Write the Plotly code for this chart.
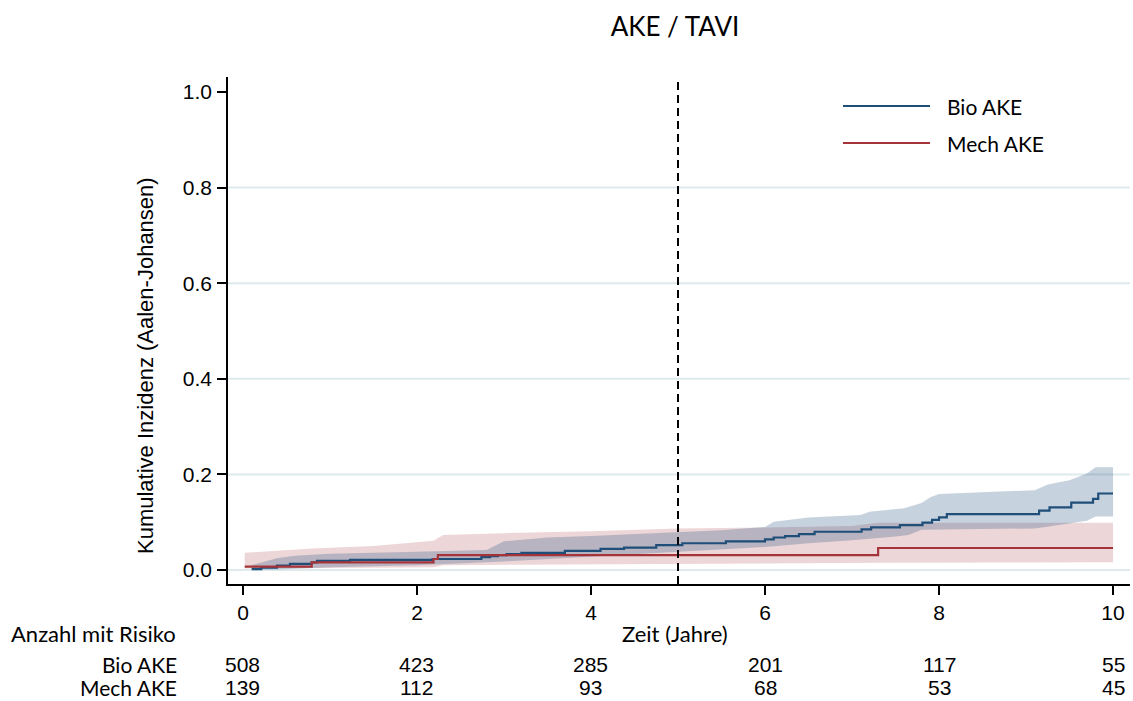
import plotly.graph_objects as go

# ---------------- data ----------------
title = "AKE / TAVI"
groups = ["Bio AKE", "Mech AKE"]

# Bio AKE cumulative incidence (step function)
bio_t = [0.10, 0.21, 0.39, 0.54, 0.79, 0.85, 1.23, 2.18, 2.74, 2.84, 2.93, 3.03, 3.20,
         3.70, 4.11, 4.38, 4.75, 5.05, 5.55, 6.00, 6.10, 6.23, 6.39, 6.57, 7.11, 7.22,
         7.55, 7.81, 7.92, 8.00, 8.09, 9.15, 9.27, 9.52, 9.77, 9.83, 10.00]
bio_v = [0.002, 0.005, 0.009, 0.013, 0.016, 0.019, 0.021, 0.023, 0.027, 0.029, 0.031,
         0.033, 0.036, 0.040, 0.044, 0.047, 0.052, 0.056, 0.060, 0.064, 0.068, 0.071,
         0.075, 0.080, 0.085, 0.089, 0.094, 0.099, 0.105, 0.110, 0.117, 0.124, 0.131,
         0.141, 0.149, 0.160, 0.160]

# Bio AKE confidence band
bio_ci_t_hi = [0.10, 0.40, 0.60, 1.00, 2.00, 2.80, 3.00, 3.50, 4.00, 4.75, 5.00, 5.50,
               6.00, 6.10, 6.50, 7.10, 7.20, 7.60, 7.80, 7.90, 8.00, 9.10, 9.25, 9.50,
               9.70, 9.80, 10.00]
bio_ci_hi = [0.010, 0.025, 0.030, 0.034, 0.038, 0.042, 0.060, 0.068, 0.071, 0.077,
             0.078, 0.083, 0.090, 0.101, 0.110, 0.115, 0.122, 0.129, 0.140, 0.152,
             0.159, 0.167, 0.179, 0.188, 0.202, 0.215, 0.215]
bio_ci_t_lo = [0.10, 0.40, 1.00, 2.00, 3.00, 4.00, 5.00, 6.00, 6.50, 7.00, 7.50, 7.65,
               7.80, 8.20, 9.10, 9.30, 9.70, 9.80, 10.00]
bio_ci_lo = [0.000, 0.001, 0.006, 0.010, 0.018, 0.028, 0.038, 0.048, 0.056, 0.062,
             0.070, 0.073, 0.084, 0.085, 0.087, 0.092, 0.103, 0.112, 0.112]

# Mech AKE cumulative incidence (step function)
mech_t = [0.02, 0.79, 2.19, 2.24, 7.30, 10.00]
mech_v = [0.007, 0.016, 0.023, 0.031, 0.046, 0.046]

# Mech AKE confidence band
mech_ci_t_hi = [0.02, 0.80, 1.50, 2.19, 2.30, 3.00, 4.00, 5.00, 6.00, 7.00, 7.30, 10.00]
mech_ci_hi = [0.036, 0.045, 0.050, 0.061, 0.073, 0.077, 0.081, 0.087, 0.089, 0.092,
              0.099, 0.099]
mech_ci_t_lo = [0.02, 2.19, 2.30, 5.00, 7.30, 10.00]
mech_ci_lo = [0.003, 0.006, 0.010, 0.013, 0.015, 0.016]

# numbers at risk
risk_times = [0, 2, 4, 6, 8, 10]
risk_bio = [508, 423, 285, 201, 117, 55]
risk_mech = [139, 112, 93, 68, 53, 45]

y_ticks = [0.0, 0.2, 0.4, 0.6, 0.8, 1.0]
x_ticks = [0, 2, 4, 6, 8, 10]
cut_time = 5

# ---------------- styles ----------------
BLUE = "rgb(31,78,121)"
RED = "rgb(164,52,58)"
BLUE_FILL = "rgba(26,74,122,0.25)"
RED_FILL = "rgba(160,50,60,0.20)"
GRID = "rgb(222,234,236)"
TICK_FONT = "Liberation Sans, Arial, sans-serif"
TEXT_FONT = "Lato, Open Sans, sans-serif"

fig = go.Figure()

# bands
fig.add_trace(go.Scatter(x=mech_ci_t_lo, y=mech_ci_lo, mode="lines",
                         line=dict(width=0), hoverinfo="skip", showlegend=False))
fig.add_trace(go.Scatter(x=mech_ci_t_hi, y=mech_ci_hi, mode="lines", fill="tonexty",
                         fillcolor=RED_FILL, line=dict(width=0), hoverinfo="skip",
                         showlegend=False))
fig.add_trace(go.Scatter(x=bio_ci_t_lo, y=bio_ci_lo, mode="lines",
                         line=dict(width=0), hoverinfo="skip", showlegend=False))
fig.add_trace(go.Scatter(x=bio_ci_t_hi, y=bio_ci_hi, mode="lines", fill="tonexty",
                         fillcolor=BLUE_FILL, line=dict(width=0), hoverinfo="skip",
                         showlegend=False))

# estimates
fig.add_trace(go.Scatter(x=bio_t, y=bio_v, mode="lines", name=groups[0],
                         line=dict(color=BLUE, width=2.2, shape="hv"), showlegend=False))
fig.add_trace(go.Scatter(x=mech_t, y=mech_v, mode="lines", name=groups[1],
                         line=dict(color=RED, width=2.2, shape="hv"), showlegend=False))

# grid lines (no line at 1.0)
for yv in y_ticks[:-1]:
    fig.add_shape(type="line", xref="paper", x0=0, x1=1, yref="y", y0=yv, y1=yv,
                  line=dict(color=GRID, width=2), layer="below")

# dashed vertical line
fig.add_shape(type="line", xref="x", x0=cut_time, x1=cut_time, yref="paper", y0=0, y1=1,
              line=dict(color="black", width=2, dash="8px,5px"))

# custom legend
leg_y = [0.9428, 0.8698]
leg_cols = [BLUE, RED]
for name, yy, col in zip(groups, leg_y, leg_cols):
    fig.add_shape(type="line", xref="paper", yref="paper", x0=0.6818, x1=0.7783,
                  y0=yy, y1=yy, line=dict(color=col, width=2))
    fig.add_annotation(xref="paper", yref="paper", x=0.795, y=yy, text=name,
                       showarrow=False, xanchor="left", yanchor="middle",
                       font=dict(family=TEXT_FONT, size=21, color="black"))

# y axis title
fig.add_annotation(xref="paper", yref="paper", x=(145 - 228) / 902, y=(584 - 366) / 507,
                   text="Kumulative Inzidenz (Aalen-Johansen)", textangle=-90,
                   showarrow=False, xanchor="center", yanchor="middle",
                   font=dict(family=TICK_FONT, size=22, color="black"))

# risk table
row_y = [(584 - 664) / 507, (584 - 687) / 507]
fig.add_annotation(xref="paper", yref="paper", x=(178 - 228) / 902, y=(584 - 633) / 507,
                   text="Anzahl mit Risiko", showarrow=False, xanchor="right",
                   yanchor="middle", font=dict(family=TEXT_FONT, size=22, color="black"))
fig.add_annotation(xref="paper", yref="paper", x=(675 - 228) / 902, y=(584 - 633) / 507,
                   text="Zeit (Jahre)", showarrow=False, xanchor="center",
                   yanchor="middle", font=dict(family=TEXT_FONT, size=22, color="black"))
for name, yy, vals in zip(groups, row_y, [risk_bio, risk_mech]):
    fig.add_annotation(xref="paper", yref="paper", x=(178 - 228) / 902, y=yy,
                       text=name, showarrow=False, xanchor="right", yanchor="middle",
                       borderpad=0,
                       font=dict(family=TEXT_FONT, size=21, color="black"))
    for t, v in zip(risk_times, vals):
        fig.add_annotation(xref="x", yref="paper", x=t, y=yy, text=str(v),
                           showarrow=False, xanchor="center", yanchor="middle",
                           borderpad=0,
                           font=dict(family=TICK_FONT, size=21, color="black"))

fig.update_layout(
    width=1133, height=701,
    margin=dict(l=228, r=3, t=77, b=117),
    paper_bgcolor="white", plot_bgcolor="white",
    title=dict(text=title, x=(675) / 1133, xanchor="center", y=1 - 27 / 701,
               yanchor="middle", font=dict(family=TEXT_FONT, size=26, color="black")),
    showlegend=False,
    xaxis=dict(range=[-0.172, 10.195], tickvals=x_ticks, ticktext=[str(v) for v in x_ticks],
               ticks="outside", ticklen=9, tickwidth=1.5, tickcolor="black",
               showline=True, linecolor="black", linewidth=1.5, showgrid=False,
               zeroline=False, ticklabelstandoff=0,
               tickfont=dict(family=TICK_FONT, size=21, color="black")),
    yaxis=dict(range=[-0.0293, 1.0314], tickvals=y_ticks,
               ticktext=[f"{v:.1f}" for v in y_ticks],
               ticks="outside", ticklen=9, tickwidth=1.5, tickcolor="black",
               showline=True, linecolor="black", linewidth=1.5, showgrid=False,
               zeroline=False, ticklabelstandoff=1,
               tickfont=dict(family=TICK_FONT, size=21, color="black")),
)

fig.write_html("out.html")
